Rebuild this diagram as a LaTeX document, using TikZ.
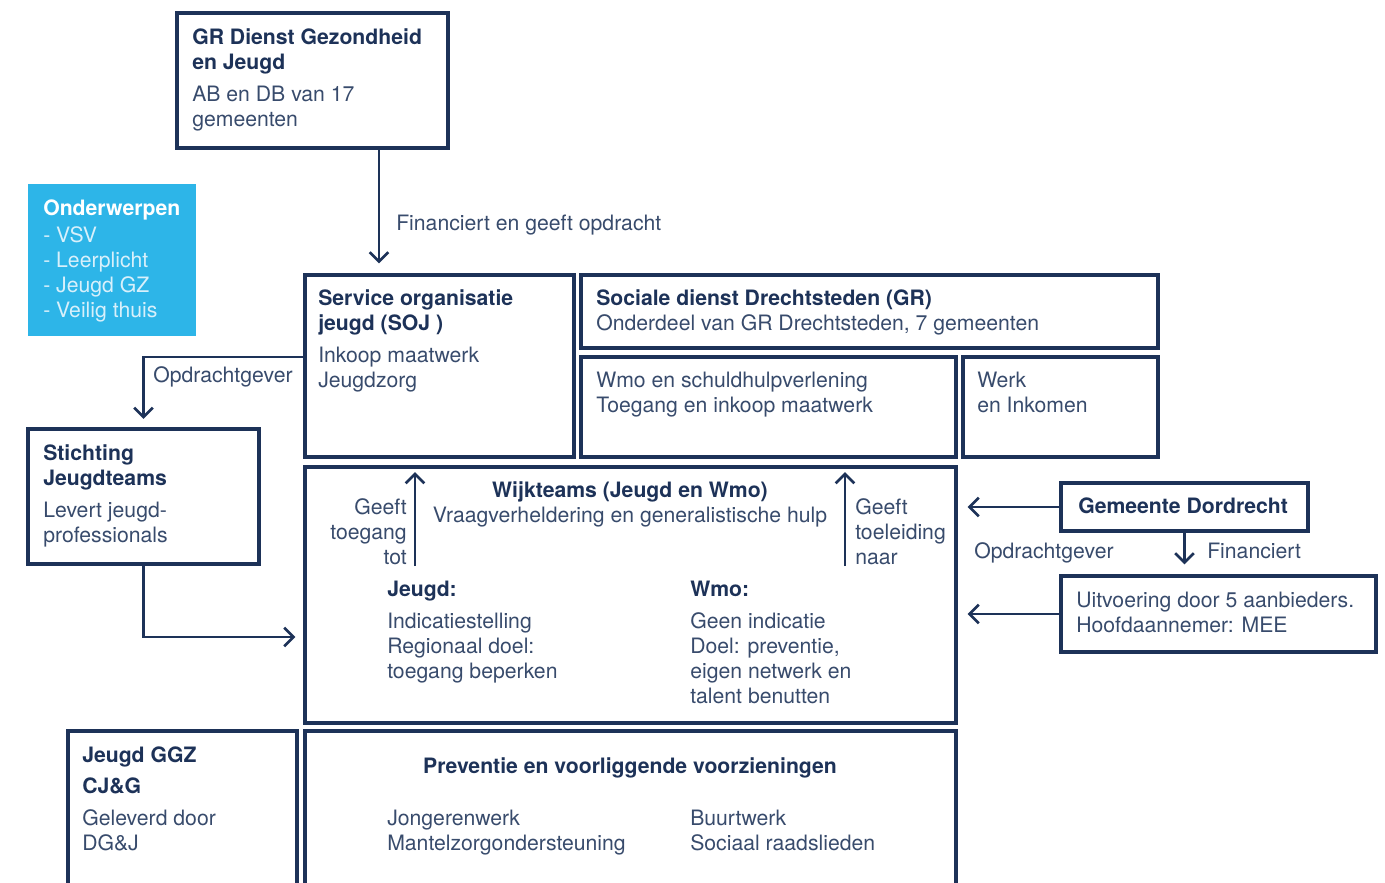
\documentclass[tikz,border=0pt]{standalone}
\usepackage{fontspec}
\setmainfont{TeX Gyre Heros}
\usetikzlibrary{arrows.meta,calc,fit}
\definecolor{navy}{HTML}{1D3258}
\definecolor{cyanbox}{HTML}{2DB5E8}
\definecolor{pale}{HTML}{D8F0FB}
\colorlet{soft}{navy!88}
\newcommand{\fs}{\fontsize{15.9}{18.75}\selectfont}
\newcommand{\hd}[1]{\textcolor{navy}{\bfseries #1}}
\tikzset{
  box/.style={draw=navy, line width=2.3pt, inner sep=0pt},
  txt/.style={anchor=base west, align=left, inner sep=0pt, text=soft, font=\fs},
  arr/.style={draw=navy, line width=2pt, -{Straight Barb[length=7pt,width=14pt]}},
}
\begin{document}
\begin{tikzpicture}[x=0.75pt,y=0.75pt,yscale=-1,xscale=1]
%set diagram left start at 0, and has height of 882
\useasboundingbox (0,0) rectangle (1385,882);
\clip (0,0) rectangle (1385,882);

%Shape: Rectangle
\node [box, fit={(177,13) (448,148)}] (gr) {};
%Shape: Rectangle
\node [fill=cyanbox, inner sep=0pt, fit={(28,184) (196,336)}] (ond) {};
%Shape: Rectangle
\node [box, fit={(305,275) (574,457)}] (soj) {};
%Shape: Rectangle
\node [box, fit={(581,275) (1158,348)}] (sdd) {};
%Shape: Rectangle
\node [box, fit={(581,357) (956,457)}] (wmo) {};
%Shape: Rectangle
\node [box, fit={(963,357) (1158,457)}] (werk) {};
%Shape: Rectangle
\node [box, fit={(28,429) (259,564)}] (stj) {};
%Shape: Rectangle
\node [box, fit={(305,467) (956,723)}] (wijk) {};
%Shape: Rectangle
\node [box, fit={(1061,483) (1308,531)}] (gem) {};
%Shape: Rectangle
\node [box, fit={(1061,576) (1376,652)}] (uit) {};
%Shape: Rectangle
\node [box, fit={(68,731) (297,900)}] (ggz) {};
%Shape: Rectangle
\node [box, fit={(305,731) (956,900)}] (prev) {};

%Straight Lines
\draw [arr, shorten >=7.5pt] ($(gr.south)+(66.5,0)$) coordinate (fin) -- (fin |- soj.north);
\draw [arr, shorten >=6.5pt] ($(soj.west)+(0,-9)$) -| (stj.north);
\draw [arr, shorten >=6pt] (stj.south) |- ($(wijk.west)+(0,42)$);
\draw [arr, shorten >=7.5pt] (gem.west) -- (gem.west -| wijk.east);
\draw [arr, shorten >=7.5pt] (uit.west) -- (uit.west -| wijk.east);
\draw [arr, shorten >=7.5pt] (gem.south) -- (gem.south |- uit.north);
\coordinate (ga) at (415,566);
\coordinate (gb) at (845,566);
\draw [arr, shorten >=5pt] (ga) -- (ga |- wijk.north);
\draw [arr, shorten >=5pt] (gb) -- (gb |- wijk.north);

% Text Node (placed at the baseline of the last line)
\node [txt] (grtxt) at (192,126) {\hd{GR Dienst Gezondheid}\\\hd{en Jeugd}\\[5pt]AB en DB van 17\\gemeenten};
% Text Node
\node [txt, text=white, font=\fs\bfseries] (ondhd) at (43,215) {Onderwerpen};
\node [txt, text=pale] (ondlst) at (43,317) {- VSV\\- Leerplicht\\- Jeugd GZ\\- Veilig thuis};
% Text Node
\node [txt] (fintxt) at (396,230) {Financiert en geeft opdracht};
% Text Node
\node [txt] (sojtxt) at (318,387) {\hd{Service organisatie}\\\hd{jeugd (SOJ )}\\[5pt]Inkoop maatwerk\\Jeugdzorg};
% Text Node
\node [txt] (sddtxt) at (596,330) {\hd{Sociale dienst Drechtsteden (GR)}\\Onderdeel van GR Drechtsteden, 7 gemeenten};
% Text Node
\node [txt] (wmotxt) at (596,412) {Wmo en schuldhulpverlening\\Toegang en inkoop maatwerk};
% Text Node
\node [txt] (werktxt) at (977,412) {Werk\\en Inkomen};
% Text Node
\node [txt] (opd1) at (153,382) {Opdrachtgever};
% Text Node
\node [txt] (stjtxt) at (43,542) {\hd{Stichting}\\\hd{Jeugdteams}\\[5pt]Levert jeugd-\\professionals};
% Text Node
\node [txt, anchor=base, align=center] (wijktxt) at (630,522) {\hd{Wijkteams (Jeugd en Wmo)}\\Vraagverheldering en generalistische hulp};
% Text Node
\node [txt, anchor=base east, align=right] (geefta) at (407,564) {Geeft\\toegang\\tot};
% Text Node
\node [txt] (geeftb) at (855,564) {Geeft\\toeleiding\\naar};
% Text Node
\node [txt] (jgdtxt) at (387,678) {\hd{Jeugd:}\\[5pt]Indicatiestelling\\Regionaal doel:\\toegang beperken};
% Text Node
\node [txt] (wmotxtb) at (690,703) {\hd{Wmo:}\\[5pt]Geen indicatie\\Doel: preventie,\\eigen netwerk en\\talent benutten};
% Text Node
\node [txt] (gemtxt) at (1078,513) {\hd{Gemeente Dordrecht}};
% Text Node
\node [txt] (opd2) at (974,558) {Opdrachtgever};
% Text Node
\node [txt] (fintxtb) at (1207,558) {Financiert};
% Text Node
\node [txt] (uittxt) at (1076,632) {Uitvoering door 5 aanbieders.\\Hoofdaannemer: MEE};
% Text Node
\node [txt] (ggztxt) at (82,850) {\hd{Jeugd GGZ}\\[4.5pt]\hd{CJ\&G}\\[5.25pt]Geleverd door\\DG\&J};
% Text Node
\node [txt, anchor=base] (prevhd) at (630,773) {\hd{Preventie en voorliggende voorzieningen}};
% Text Node
\node [txt] (preva) at (387,850) {Jongerenwerk\\Mantelzorgondersteuning};
% Text Node
\node [txt] (prevb) at (690,850) {Buurtwerk\\Sociaal raadslieden};

\end{tikzpicture}
\end{document}
